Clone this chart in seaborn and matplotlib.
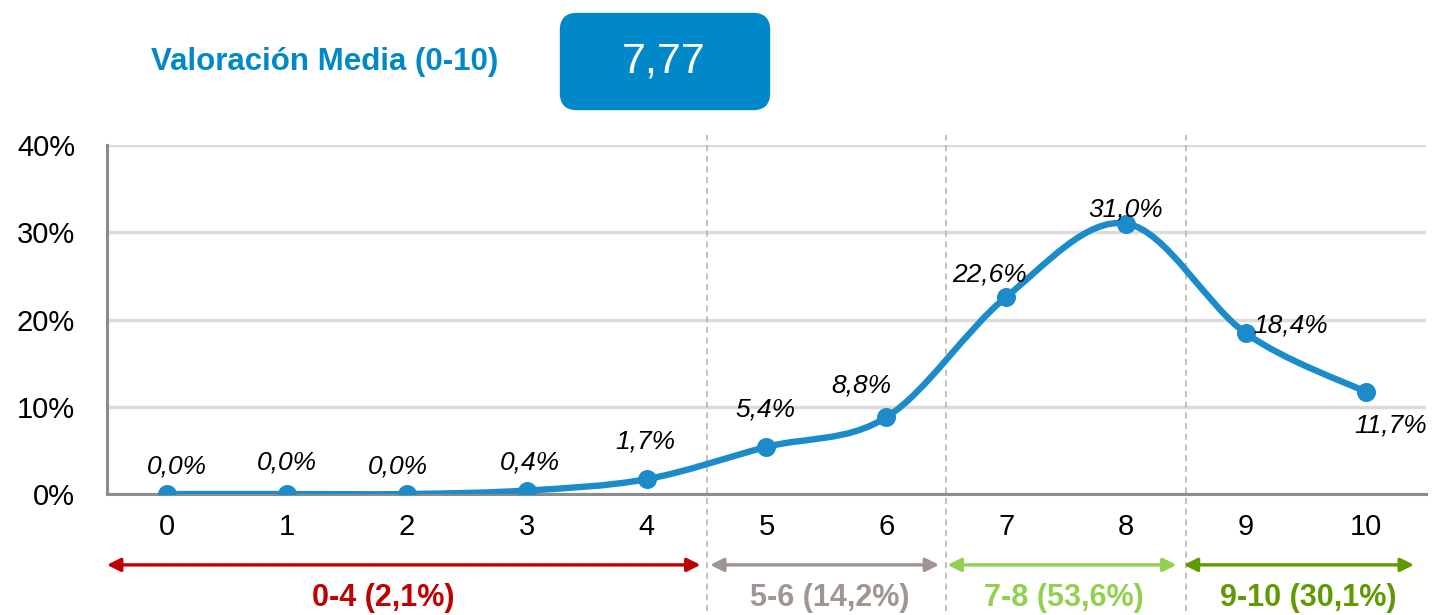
import numpy as np
import pandas as pd
import matplotlib
matplotlib.use("Agg")
import matplotlib.pyplot as plt
from matplotlib.path import Path
from matplotlib.patches import PathPatch, FancyBboxPatch
import seaborn as sns

# ---------------------------------------------------------
# Data
# ---------------------------------------------------------
scores = [0, 1, 2, 3, 4, 5, 6, 7, 8, 9, 10]
pct = [0.0, 0.0, 0.0, 0.4, 1.7, 5.4, 8.8, 22.6, 31.0, 18.4, 11.7]
point_labels = ["0,0%", "0,0%", "0,0%", "0,4%", "1,7%", "5,4%", "8,8%",
                "22,6%", "31,0%", "18,4%", "11,7%"]
mean_value = "7,77"
title_text = "Valoración Media (0-10)"

groups = ["0-4 (2,1%)", "5-6 (14,2%)", "7-8 (53,6%)", "9-10 (30,1%)"]
group_start = [0, 5, 7, 9]
group_end = [4, 6, 8, 10]
group_colors = ["#c00000", "#a0958f", "#92d050", "#5f9a00"]

y_ticks = [0, 10, 20, 30, 40]
y_ticklabels = ["0%", "10%", "20%", "30%", "40%"]

df = pd.DataFrame({"score": scores, "pct": pct})

# label offsets (points) for each data label
label_dx = [7, 0, -6, 2, -1, -1, -18, -12, 0, 32, 18]
label_dy = [20, 23, 20, 20, 27, 27, 23, 16, 10, 6, -24]

# ---------------------------------------------------------
# Figure
# ---------------------------------------------------------
sns.set_style("white")
plt.rcParams["font.family"] = ["Liberation Sans", "DejaVu Sans"]

blue = "#0088c9"
line_blue = "#1b8bc9"

fig = plt.figure(figsize=(14.34, 6.15), dpi=100)
ax = fig.add_axes([0.0746, 0.1967, 0.9198, 0.5675])

# smooth line (Catmull-Rom style bezier through the points)
xs = df["score"].to_numpy(dtype=float)
ys = df["pct"].to_numpy(dtype=float)
pts = np.column_stack([xs, ys])
verts = [pts[0]]
codes = [Path.MOVETO]
n = len(pts)
for i in range(n - 1):
    p0 = pts[i - 1] if i > 0 else pts[i]
    p1 = pts[i]
    p2 = pts[i + 1]
    p3 = pts[i + 2] if i + 2 < n else pts[i + 1]
    c1 = p1 + (p2 - p0) / 6.0
    c2 = p2 - (p3 - p1) / 6.0
    verts += [c1, c2, p2]
    codes += [Path.CURVE4] * 3
ax.add_patch(PathPatch(Path(verts, codes), facecolor="none",
                       edgecolor=line_blue, lw=4.6, capstyle="round",
                       joinstyle="round", zorder=3))

sns.scatterplot(data=df, x="score", y="pct", ax=ax, s=160,
                color=line_blue, edgecolor=line_blue, zorder=4, legend=False)

for i, (x, y, lab) in enumerate(zip(scores, pct, point_labels)):
    ax.annotate(lab, (x, y), xytext=(label_dx[i], label_dy[i]),
                textcoords="offset points", ha="center", va="center",
                fontsize=19, style="italic", color="black", zorder=5)

# axes styling
ax.set_xlim(-0.5, 10.5)
ax.set_ylim(0, 40)
ax.set_yticks(y_ticks)
ax.set_yticklabels(y_ticklabels, fontsize=21, color="black")
ax.set_xticks(scores)
ax.set_xticklabels([str(s) for s in scores], fontsize=21, color="black")
ax.set_xticks(np.arange(-0.5, 10.6, 1), minor=True)
ax.tick_params(axis="x", which="major", length=0, pad=14)
ax.tick_params(axis="x", which="minor", length=8, width=1.5,
               color="#888888", direction="out")
ax.tick_params(axis="y", length=9, width=1.5, color="#888888", pad=14)
ax.set_xlabel("")
ax.set_ylabel("")
ax.grid(axis="y", color="#dcdcdc", lw=2.5, zorder=0)
ax.set_axisbelow(True)
for side in ["top", "right"]:
    ax.spines[side].set_visible(False)
for side in ["left", "bottom"]:
    ax.spines[side].set_color("#8c8c8c")
    ax.spines[side].set_linewidth(2.2)

# dashed separators between groups
for s in group_start[1:]:
    ax.axvline(s - 0.5, ymin=-0.335, ymax=1.03, color="#b0b0b0",
               lw=1.1, ls=(0, (4, 3)), clip_on=False, zorder=1)

# group arrows and labels
arrow_pad_l = [0.0, 0.03, 0.01, -0.02]
arrow_pad_r = [0.05, 0.06, 0.08, 0.1]
label_shift = [-0.2, 0.03, -0.02, 0.02]
for g, s, e, c, pl, pr, sh in zip(groups, group_start, group_end, group_colors,
                                  arrow_pad_l, arrow_pad_r, label_shift):
    ax.annotate("", xy=(e + 0.5 - pr, -0.203), xytext=(s - 0.5 + pl, -0.203),
                xycoords=("data", "axes fraction"),
                textcoords=("data", "axes fraction"),
                arrowprops=dict(arrowstyle="<|-|>,head_length=0.8,head_width=0.4",
                                color=c, lw=2.4, shrinkA=0, shrinkB=0),
                annotation_clip=False)
    ax.text((s + e) / 2 + sh, -0.298, g, transform=ax.get_xaxis_transform(),
            ha="center", va="center", fontsize=22, fontweight="bold", color=c)

# header: title and value box
fig.text(325 / 1434, 1 - 62 / 615, title_text, ha="center", va="center",
         fontsize=22.5, fontweight="bold", color=blue)
box = FancyBboxPatch((572 / 1434, 1 - 98 / 615), 186 / 1434, 73 / 615,
                     boxstyle="round,pad=0.0085,rounding_size=0.012",
                     transform=fig.transFigure, facecolor=blue,
                     edgecolor="none", mutation_aspect=1434 / 615)
fig.patches.append(box)
fig.text(664 / 1434, 1 - 62 / 615, mean_value, ha="center", va="center",
         fontsize=31, color="white")

fig.savefig("out.png", dpi=100)
